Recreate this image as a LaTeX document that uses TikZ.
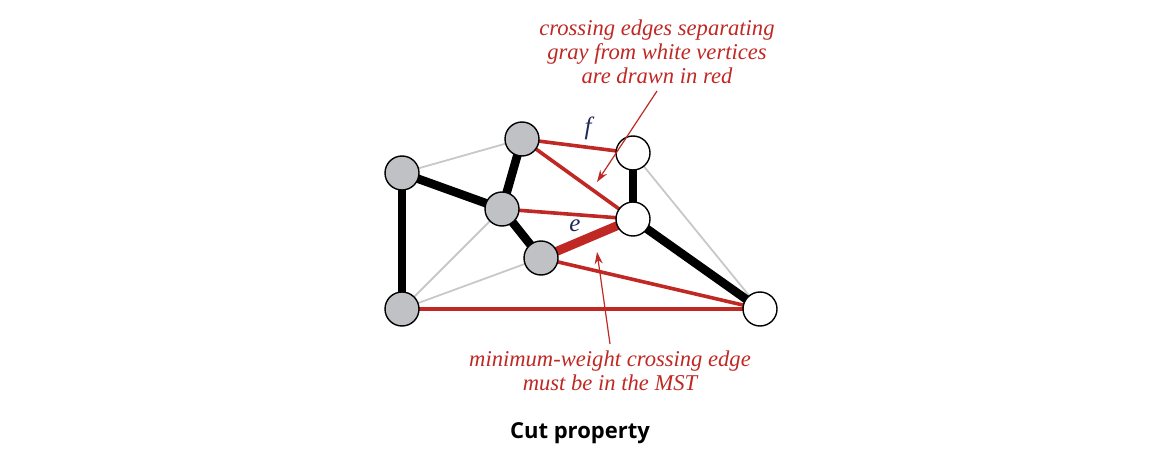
\documentclass[tikz,border=0pt]{standalone}
\usepackage{fontspec}
\newfontfamily\titlefont{Open Sans}
\newfontfamily\notefont{Liberation Serif}
\usepackage{xcolor}
\definecolor{cutred}{RGB}{192, 40, 36}
\definecolor{vgray}{RGB}{192, 193, 196}
\definecolor{thingray}{RGB}{200, 200, 200}
\definecolor{labelblue}{RGB}{30, 40, 90}
\usepackage{tikz}
\usetikzlibrary{arrows.meta,backgrounds}

\begin{document}
\begin{tikzpicture}[x=0.5pt, y=-0.5pt,
    vertex/.style={circle, draw=black, line width=0.7pt, minimum size=17pt, inner sep=0pt},
    grayv/.style={vertex, fill=vgray},
    whitev/.style={vertex, fill=white},
    treeedge/.style={line width=4.3pt, black},
    plainedge/.style={line width=0.9pt, thingray},
    crossedge/.style={line width=1.8pt, cutred},
    minedge/.style={line width=4.5pt, cutred},
    note/.style={cutred, font=\notefont\itshape\fontsize{11.3}{12}\selectfont, align=center},
    pointer/.style={-{Stealth[length=6pt, width=4pt]}, cutred, line width=0.6pt}]
    \useasboundingbox (0,0) rectangle (1172,470);

    % Gray vertices
    \node[grayv] (a) at (402,173) {};
    \node[grayv] (b) at (522,139) {};
    \node[grayv] (c) at (502,209) {};
    \node[grayv] (d) at (541,258) {};
    \node[grayv] (e) at (402,309) {};

    % White vertices
    \node[whitev] (f) at (633,153) {};
    \node[whitev] (g) at (633,219) {};
    \node[whitev] (h) at (760,309) {};

    \begin{scope}[on background layer]
        % Non-crossing edges
        \draw[plainedge] (a.center) -- (b.center);
        \draw[plainedge] (c.center) -- (e.center);
        \draw[plainedge] (d.center) -- (e.center);
        \draw[plainedge] (f.center) -- (h.center);
        % MST edges
        \draw[treeedge] (a.center) -- (e.center);
        \draw[treeedge] (a.center) -- (c.center);
        \draw[treeedge] (c.center) -- (b.center);
        \draw[treeedge] (c.center) -- (d.center);
        \draw[treeedge] (f.center) -- (g.center);
        \draw[treeedge] (g.center) -- (h.center);
        % Crossing edges
        \draw[crossedge] (b.center) -- (f.center);
        \draw[crossedge] (b.center) -- (g.center);
        \draw[crossedge] (c.center) -- (g.center);
        \draw[crossedge] (d.center) -- (h.center);
        \draw[crossedge] (e.center) -- (h.center);
        \draw[minedge] (d.center) -- (g.center);
    \end{scope}

    % Edge labels
    \node[labelblue, font=\notefont\itshape\fontsize{12.5}{14}\selectfont] (flabel) at (588,128) {f};
    \node[labelblue, font=\notefont\itshape\fontsize{12.5}{14}\selectfont] (elabel) at (575,226) {e};

    % Annotations
    \node[note] (topnote) at (657,52) {crossing edges separating\\gray from white vertices\\are drawn in red};
    \node[note] (botnote) at (610,371) {minimum-weight crossing edge\\must be in the MST};
    \coordinate (toptip) at (597,182);
    \coordinate (bottip) at (597,252);
    \draw[pointer] (topnote.south) -- (toptip);
    \draw[pointer] (botnote.north) -- (bottip);

    % Caption
    \node[font=\titlefont\bfseries\fontsize{11}{14}\selectfont] (caption) at (580,433) {Cut property};
\end{tikzpicture}
\end{document}
